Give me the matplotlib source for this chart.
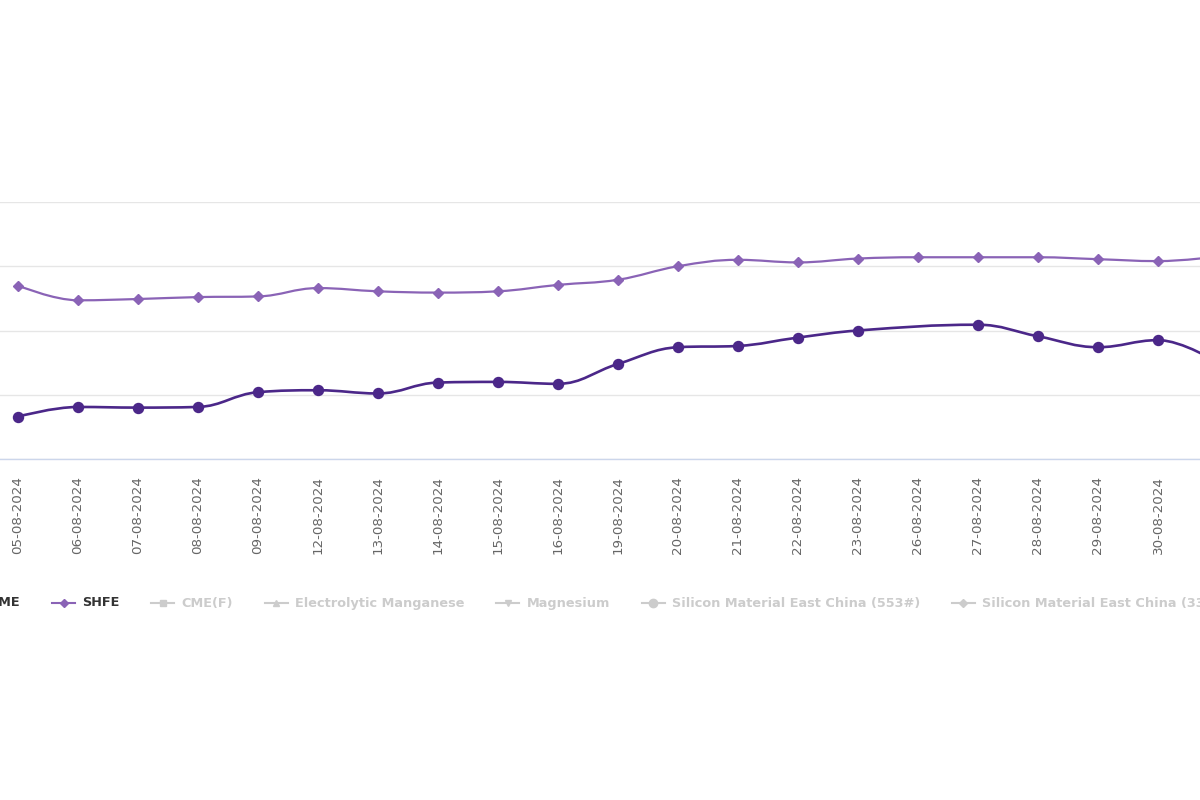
import matplotlib
matplotlib.use('Agg')
import matplotlib.pyplot as plt
from matplotlib.path import Path
from matplotlib.patches import PathPatch
from matplotlib.lines import Line2D

dates = ['05-08-2024', '06-08-2024', '07-08-2024', '08-08-2024', '09-08-2024',
         '12-08-2024', '13-08-2024', '14-08-2024', '15-08-2024', '16-08-2024',
         '19-08-2024', '20-08-2024', '21-08-2024', '22-08-2024', '23-08-2024',
         '26-08-2024', '27-08-2024', '28-08-2024', '29-08-2024', '30-08-2024',
         '02-09-2024']
shfe = [27.0, 24.7, 24.9, 25.2, 25.3, 26.6, 26.1, 25.9, 26.1, 27.1,
        27.9, 30.0, 31.0, 30.6, 31.2, 31.4, 31.4, 31.4, 31.1, 30.8, 31.5]
# LME closed on 26-08 (bank holiday)
lme = [6.6, 8.1, 8.0, 8.1, 10.4, 10.7, 10.2, 11.9, 12.0, 11.7,
       14.8, 17.4, 17.6, 18.9, 20.0, None, 20.9, 19.1, 17.4, 18.5, 15.0]

legend_labels = ['LME', 'SHFE', 'CME(F)', 'Electrolytic Manganese', 'Magnesium',
                 'Silicon Material East China (553#)', 'Silicon Material East China (3303#)']
legend_markers = ['o', 'D', 's', '^', 'v', 'o', 'D']
legend_on = [True, True, False, False, False, False, False]

c_lme = '#4b2789'
c_shfe = '#8a63b6'
c_off = '#cccccc'


def spline(xs, ys, smoothing=1.5):
    # highcharts style spline control points
    n = len(xs)
    left = [(xs[i], ys[i]) for i in range(n)]
    right = [(xs[i], ys[i]) for i in range(n)]
    for i in range(1, n - 1):
        x, y = xs[i], ys[i]
        lx, ly = xs[i - 1], ys[i - 1]
        nx, ny = xs[i + 1], ys[i + 1]
        d = smoothing + 1
        lcx = (smoothing * x + lx) / d
        lcy = (smoothing * y + ly) / d
        rcx = (smoothing * x + nx) / d
        rcy = (smoothing * y + ny) / d
        if rcx != lcx:
            corr = (rcy - lcy) * (rcx - x) / (rcx - lcx) + y - rcy
            lcy += corr
            rcy += corr
        if lcy > ly and lcy > y:
            lcy = max(ly, y)
            rcy = 2 * y - lcy
        elif lcy < ly and lcy < y:
            lcy = min(ly, y)
            rcy = 2 * y - lcy
        if rcy > ny and rcy > y:
            rcy = max(ny, y)
            lcy = 2 * y - rcy
        elif rcy < ny and rcy < y:
            rcy = min(ny, y)
            lcy = 2 * y - rcy
        left[i] = (lcx, lcy)
        right[i] = (rcx, rcy)
    verts = [(xs[0], ys[0])]
    codes = [Path.MOVETO]
    for i in range(1, n):
        verts += [right[i - 1], left[i], (xs[i], ys[i])]
        codes += [Path.CURVE4] * 3
    return Path(verts, codes)


W, H = 1200, 800
fig = plt.figure(figsize=(12, 8), dpi=100)
ax = fig.add_axes([0, 341 / H, 1, 257 / H])

x_all = list(range(len(dates)))
lx = [i for i, v in zip(x_all, lme) if v is not None]
ly = [v for v in lme if v is not None]

ax.add_patch(PathPatch(spline(x_all, shfe), fill=False, edgecolor=c_shfe, lw=1.6, zorder=3))
ax.plot(x_all, shfe, linestyle='none', marker='D', ms=4.6, color=c_shfe, zorder=4)
ax.add_patch(PathPatch(spline(lx, ly), fill=False, edgecolor=c_lme, lw=1.9, zorder=3))
ax.plot(lx, ly, linestyle='none', marker='o', ms=7.2, color=c_lme, zorder=4)

ax.set_yticks([0, 10, 20, 30, 40])
ax.set_yticklabels([])
ax.tick_params(axis='y', length=0)
ax.yaxis.grid(True, color='#e6e6e6', lw=1)
ax.set_axisbelow(True)
ax.set_xticks(x_all)
ax.set_xticklabels(dates, rotation=90, fontsize=9.7, color='#666666')
ax.tick_params(axis='x', length=0, pad=12)
# chart is wider than the picture: only part of the plot area is shown
ax.set_xlim(-0.3, 19.7)
ax.set_ylim(0, 40)
for s in ['top', 'left', 'right']:
    ax.spines[s].set_visible(False)
ax.spines['bottom'].set_color('#ccd6eb')
ax.spines['bottom'].set_linewidth(1)

# legend, laid out like the highcharts one
renderer = fig.canvas.get_renderer()
ly_fig = (H - 603) / H
texts = []
widths = []
for lab, on in zip(legend_labels, legend_on):
    t = fig.text(0, ly_fig, lab, fontsize=9.3, fontweight='bold',
                 color='#333333' if on else c_off, va='center', ha='left')
    texts.append(t)
    widths.append(t.get_window_extent(renderer).width)

sym_w, gap_t, gap_i = 23, 7, 32
starts = [0] * len(texts)
starts[1] = 52
starts[0] = starts[1] - gap_i - widths[0] - gap_t - sym_w
for i in range(2, len(texts)):
    starts[i] = starts[i - 1] + sym_w + gap_t + widths[i - 1] + gap_i

for i, t in enumerate(texts):
    x0 = starts[i]
    if i == 0:
        col = c_lme
    elif i == 1:
        col = c_shfe
    else:
        col = c_off
    fig.add_artist(Line2D([x0 / W, (x0 + sym_w) / W], [ly_fig, ly_fig],
                          transform=fig.transFigure, color=col, lw=1.5))
    ms = 6 if legend_markers[i] == 'o' else 4.5
    fig.add_artist(Line2D([(x0 + sym_w / 2) / W], [ly_fig], transform=fig.transFigure,
                          marker=legend_markers[i], ms=ms, color=col, linestyle='none'))
    t.set_x((x0 + sym_w + gap_t) / W)

fig.savefig('out.png', dpi=100)
